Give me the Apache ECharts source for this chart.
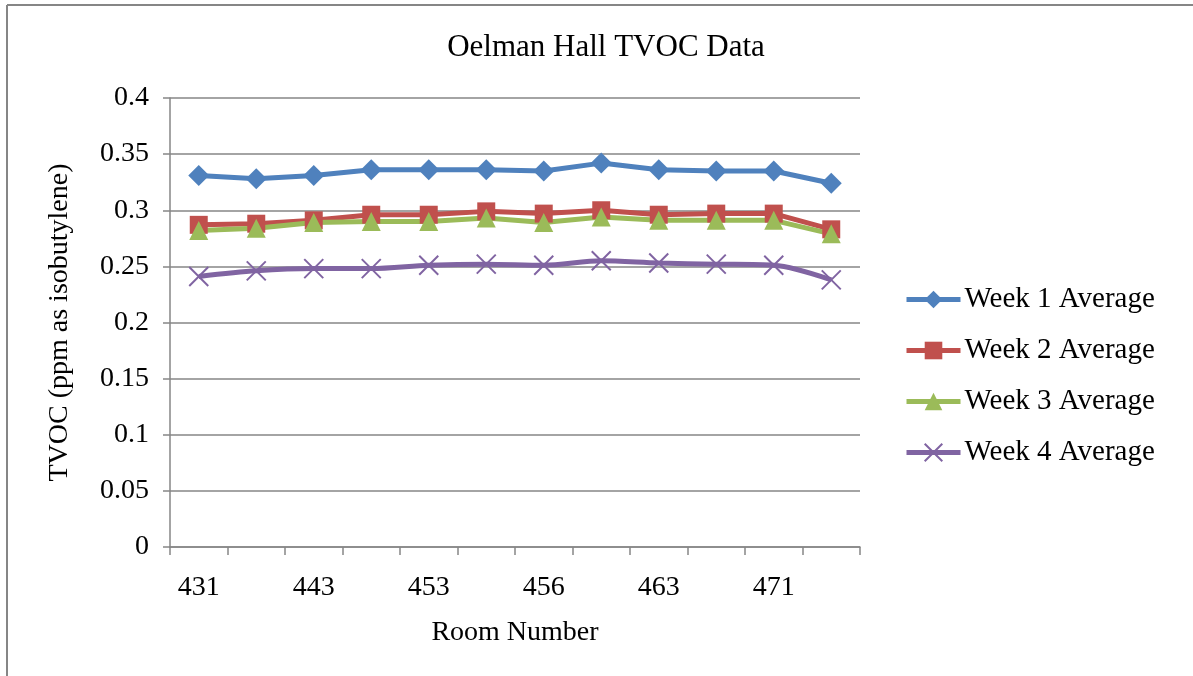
<!DOCTYPE html>
<html>
<head>
<meta charset="utf-8">
<script src="https://cdn.jsdelivr.net/npm/echarts@6/dist/echarts.min.js"></script>
<style>
html,body{margin:0;padding:0;background:#fff;}
#chart{width:1193px;height:676px;}
</style>
</head>
<body>
<div id="chart"></div>
<script>
const rooms = ['431','435','443','448','453','454','456','460','463','465','471','475'];
const week1 = [0.331, 0.328, 0.331, 0.336, 0.336, 0.336, 0.335, 0.342, 0.336, 0.335, 0.335, 0.324];
const week2 = [0.287, 0.288, 0.291, 0.296, 0.296, 0.299, 0.297, 0.300, 0.296, 0.297, 0.297, 0.283];
const week3 = [0.282, 0.284, 0.289, 0.290, 0.290, 0.293, 0.289, 0.294, 0.291, 0.291, 0.291, 0.279];
const week4 = [0.241, 0.246, 0.248, 0.248, 0.251, 0.252, 0.251, 0.255, 0.253, 0.252, 0.251, 0.238];
const seriesNames = ['Week 1 Average','Week 2 Average','Week 3 Average','Week 4 Average'];

const FONT = "'Liberation Serif', 'Times New Roman', serif";
const GRAY = '#868686';
const chart = echarts.init(document.getElementById('chart'));

function lineSeries(name, data, color, symbol, size, extra) {
  return Object.assign({
    name: name, type: 'line', data: data,
    symbol: symbol, symbolSize: size,
    lineStyle: {color: color, width: 5},
    itemStyle: {color: color},
    emphasis: {disabled: true},
    animation: false
  }, extra || {});
}

chart.setOption({
  animation: false,
  title: {
    text: 'Oelman Hall TVOC Data',
    left: 601, top: 27, textAlign: 'center',
    textStyle: {fontFamily: FONT, fontSize: 31, fontWeight: 'normal', color: '#000'}
  },
  legend: {
    orient: 'vertical', left: 904, top: 285, padding: 0,
    itemWidth: 54, itemHeight: 22, itemGap: 22,
    lineStyle: {width: 5},
    textStyle: {fontFamily: FONT, fontSize: 29, color: '#000', padding: [0, 0, 0, -1]},
    data: seriesNames
  },
  grid: {left: 170, right: 333, top: 98, bottom: 129, containLabel: false},
  xAxis: {
    type: 'category', data: rooms, boundaryGap: true,
    name: 'Room Number', nameLocation: 'middle', nameGap: 72,
    nameTextStyle: {fontFamily: FONT, fontSize: 28, color: '#000'},
    axisLine: {lineStyle: {color: GRAY, width: 1.5}},
    axisTick: {show: true, length: 8, alignWithLabel: false, interval: 0, lineStyle: {color: GRAY, width: 1.5}},
    axisLabel: {interval: 1, margin: 27, fontFamily: FONT, fontSize: 28, color: '#000'}
  },
  yAxis: {
    type: 'value', min: 0, max: 0.4, interval: 0.05,
    name: 'TVOC (ppm as isobutylene)', nameLocation: 'middle', nameGap: 96,
    nameTextStyle: {fontFamily: FONT, fontSize: 28, color: '#000'},
    axisLine: {show: true, lineStyle: {color: GRAY, width: 1.5}},
    axisTick: {show: true, length: 7, lineStyle: {color: GRAY, width: 1.5}},
    axisLabel: {margin: 21, fontFamily: FONT, fontSize: 28, color: '#000'},
    splitLine: {show: true, lineStyle: {color: GRAY, width: 1.5}}
  },
  graphic: [
    {type: 'line', shape: {x1: 7, y1: 5, x2: 1193, y2: 5}, style: {stroke: GRAY, lineWidth: 2}, silent: true},
    {type: 'line', shape: {x1: 7, y1: 5, x2: 7, y2: 676}, style: {stroke: GRAY, lineWidth: 2}, silent: true}
  ],
  series: [
    lineSeries(seriesNames[0], week1, '#4F81BD', 'diamond', 21),
    lineSeries(seriesNames[1], week2, '#C0504D', 'rect', 18),
    lineSeries(seriesNames[2], week3, '#9BBB59', 'triangle', 19),
    lineSeries(seriesNames[3], week4, '#8064A2', 'path://M0,0L10,10M10,0L0,10', 19, {
      smooth: 0.3,
      itemStyle: {color: '#8064A2', borderColor: '#8064A2', borderWidth: 2}
    })
  ]
});
</script>
</body>
</html>
